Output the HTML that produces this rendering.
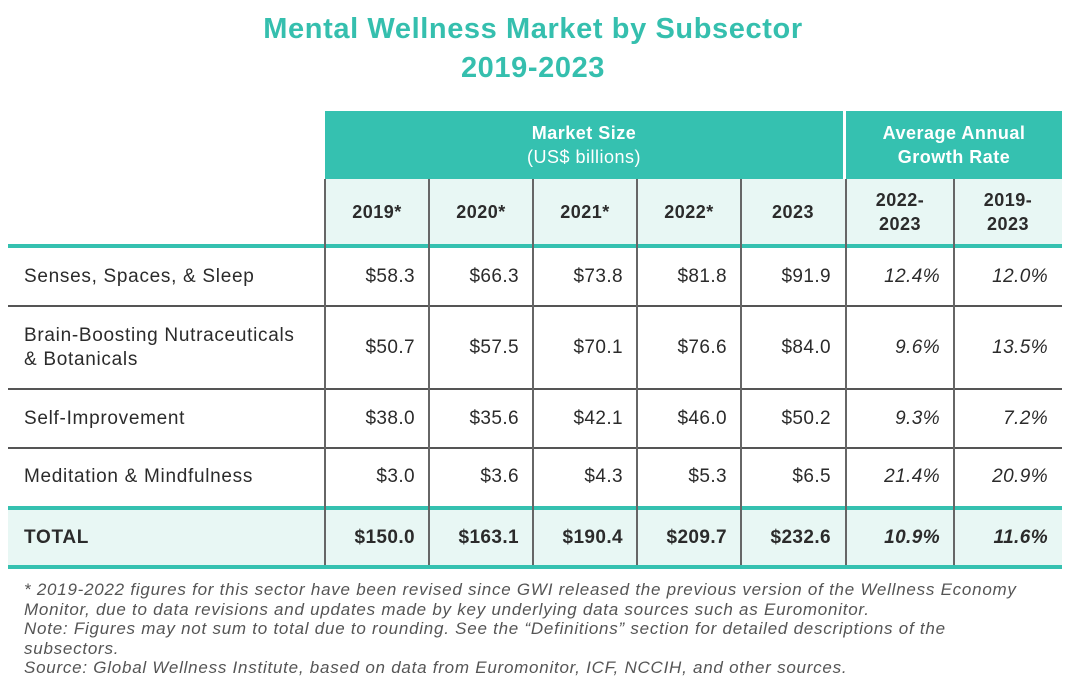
<!DOCTYPE html><html><head><style>
body{margin:0;width:1066px;height:697px;background:#fff;font-family:"Liberation Sans",sans-serif;color:#2b2b2b;position:relative;overflow:hidden}
.a{position:absolute;box-sizing:border-box}
.t{color:#35bfae;font-weight:bold;font-size:29px;letter-spacing:0.6px;text-align:center;width:1066px;left:0}
.teal{background:#35c1b0}
.lt{background:#e8f7f4}
.v{width:2px;background:#666}
.h{height:2px;background:#555;left:8px;width:1054px}
.c{display:flex;align-items:center;justify-content:flex-end;font-size:19px;letter-spacing:0.4px}
.l{display:flex;align-items:center;font-size:19px;letter-spacing:0.7px;left:24px}
.hd{display:flex;align-items:center;justify-content:center;text-align:center;font-weight:bold;font-size:18px;letter-spacing:0.5px;line-height:24px}
.i{font-style:italic}
.f{left:24px;font-size:17px;letter-spacing:0.75px;font-style:italic;color:#555;line-height:19.5px;white-space:nowrap}
</style></head><body>
<div class="a t" style="top:13px">Mental Wellness Market by Subsector</div>
<div class="a t" style="top:52px">2019-2023</div>
<div class="a teal" style="left:325px;top:111px;width:737px;height:68px"></div>
<div class="a" style="left:843px;top:111px;width:3px;height:68px;background:#fff"></div>
<div class="a hd" style="left:325px;top:111px;width:518px;height:68px;color:#fff;font-weight:normal"><div><b>Market Size</b><br>(US$ billions)</div></div>
<div class="a hd" style="left:846px;top:111px;width:216px;height:68px;color:#fff">Average Annual<br>Growth Rate</div>
<div class="a lt" style="left:325px;top:179px;width:737px;height:65px"></div>
<div class="a lt" style="left:8px;top:510px;width:1054px;height:55px"></div>
<div class="a teal" style="left:8px;top:244px;width:1054px;height:4px"></div>
<div class="a teal" style="left:8px;top:506px;width:1054px;height:4px"></div>
<div class="a teal" style="left:8px;top:565px;width:1054px;height:4px"></div>
<div class="a h" style="top:305px"></div>
<div class="a h" style="top:388px"></div>
<div class="a h" style="top:447px"></div>
<div class="a v" style="left:324px;top:179px;height:386px"></div>
<div class="a v" style="left:428px;top:179px;height:386px"></div>
<div class="a v" style="left:532px;top:179px;height:386px"></div>
<div class="a v" style="left:636px;top:179px;height:386px"></div>
<div class="a v" style="left:740px;top:179px;height:386px"></div>
<div class="a v" style="left:845px;top:179px;height:386px"></div>
<div class="a v" style="left:953px;top:179px;height:386px"></div>
<div class="a hd" style="left:325px;top:179px;width:104px;height:65px">2019*</div>
<div class="a hd" style="left:429px;top:179px;width:104px;height:65px">2020*</div>
<div class="a hd" style="left:533px;top:179px;width:104px;height:65px">2021*</div>
<div class="a hd" style="left:637px;top:179px;width:104px;height:65px">2022*</div>
<div class="a hd" style="left:741px;top:179px;width:104px;height:65px">2023</div>
<div class="a hd" style="left:846px;top:179px;width:108px;height:65px">2022-<br>2023</div>
<div class="a hd" style="left:954px;top:179px;width:108px;height:65px">2019-<br>2023</div>
<div id="rows"></div>
<script>
var rows=[[248,58,"Senses, Spaces, &amp; Sleep",["$58.3","$66.3","$73.8","$81.8","$91.9"],["12.4%","12.0%"]],
[306,83,"Brain-Boosting Nutraceuticals<br>&amp; Botanicals",["$50.7","$57.5","$70.1","$76.6","$84.0"],["9.6%","13.5%"]],
[389,59,"Self-Improvement",["$38.0","$35.6","$42.1","$46.0","$50.2"],["9.3%","7.2%"]],
[448,58,"Meditation &amp; Mindfulness",["$3.0","$3.6","$4.3","$5.3","$6.5"],["21.4%","20.9%"]],
[510,55,"<b>TOTAL</b>",["$150.0","$163.1","$190.4","$209.7","$232.6"],["10.9%","11.6%"]]];
var h="";rows.forEach(function(r,k){var b=k==4?"font-weight:bold;":"";
h+='<div class="a l" style="top:'+r[0]+'px;height:'+r[1]+'px;line-height:24px">'+r[2]+'</div>';
r[3].forEach(function(s,j){h+='<div class="a c" style="'+b+'left:'+(325+104*j)+'px;width:90px;top:'+r[0]+'px;height:'+r[1]+'px">'+s+'</div>'});
r[4].forEach(function(s,j){h+='<div class="a c i" style="'+b+'left:'+(846+108*j)+'px;width:94px;top:'+r[0]+'px;height:'+r[1]+'px">'+s+'</div>'});});
document.getElementById("rows").innerHTML=h;
</script>
<div class="a f" style="top:580px">* 2019-2022 figures for this sector have been revised since GWI released the previous version of the Wellness Economy<br>Monitor, due to data revisions and updates made by key underlying data sources such as Euromonitor.<br>Note: Figures may not sum to total due to rounding. See the “Definitions” section for detailed descriptions of the<br>subsectors.<br>Source: Global Wellness Institute, based on data from Euromonitor, ICF, NCCIH, and other sources.</div>
</body></html>
